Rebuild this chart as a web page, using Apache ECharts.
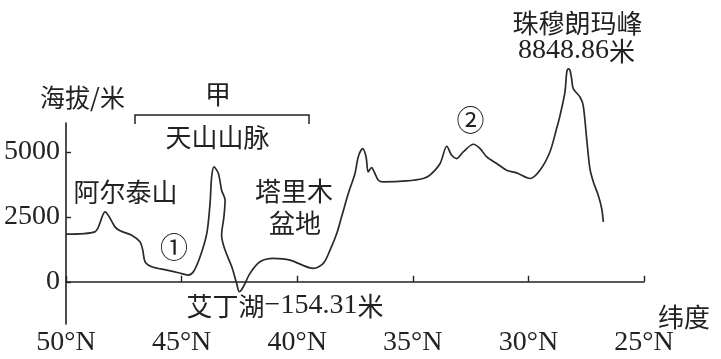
<!DOCTYPE html>
<html>
<head>
<meta charset="utf-8">
<script src="https://cdn.jsdelivr.net/npm/echarts@6/dist/echarts.min.js"></script>
<style>html,body{margin:0;padding:0;background:#fff;}#c{width:721px;height:359px;}</style>
</head>
<body>
<div id="c"></div>
<script>
// Profile: latitude (°N) and elevation (m)
const latitudes = [50.00, 48.75, 48.31, 47.88, 47.66, 47.16, 46.80, 46.68, 46.58, 46.29, 45.64, 45.14, 44.71, 44.49, 44.20, 43.91, 43.77, 43.70, 43.60, 43.41, 43.27, 43.12, 43.17, 43.27, 43.12, 42.83, 42.62, 42.50, 42.33, 42.04, 41.61, 41.03, 40.31, 39.30, 38.87, 38.58, 38.29, 38.08, 37.79, 37.50, 37.36, 37.17, 37.02, 36.93, 36.78, 36.67, 36.49, 36.28, 35.26, 34.55, 34.26, 33.82, 33.53, 33.32, 33.10, 32.82, 32.38, 32.09, 31.80, 31.37, 30.94, 30.51, 29.93, 29.50, 29.07, 28.78, 28.63, 28.42, 28.34, 28.27, 28.20, 28.13, 28.06, 27.77, 27.63, 27.48, 27.34, 27.19, 26.98, 26.83, 26.76];
const elevations = [1835, 1923, 2692, 2115, 1961, 1796, 1538, 1219, 769, 577, 450, 346, 258, 385, 962, 1861, 3015, 4038, 4423, 4169, 3527, 3142, 2500, 1796, 1219, 577, -62, -385, -192, 323, 769, 900, 835, 515, 708, 1219, 1861, 2500, 3400, 4169, 4808, 5131, 4808, 4231, 4400, 4231, 3911, 3846, 3884, 3977, 4104, 4554, 5219, 4873, 4746, 5000, 5296, 5131, 4808, 4554, 4296, 4192, 3977, 4296, 5000, 5900, 6411, 7307, 8077, 8200, 8142, 7823, 7438, 7115, 6796, 5515, 4361, 3846, 3334, 2823, 2308];
const yTicks = [0, 2500, 5000];
const xTicks = [50, 45, 40, 35, 30, 25];
const yAxisName = '海拔/米';
const xAxisName = '纬度';

const SERIF = "'Liberation Serif','Noto Sans CJK SC'";
const CJK = "'Noto Sans CJK SC'";
const INK = '#222';

const data = latitudes.map((v, i) => [v, elevations[i]]);

function txt(x, y, text, size, family, extra) {
  return {
    type: 'text', x: x, y: y, z: 10,
    style: Object.assign({
      text: text, fill: INK, fontSize: size, fontFamily: family,
      align: 'center', verticalAlign: 'middle', textAlign: 'center', textVerticalAlign: 'middle'
    }, extra || {})
  };
}

const chart = echarts.init(document.getElementById('c'), null, {renderer: 'canvas'});
chart.setOption({
  animation: false,
  backgroundColor: '#fff',
  grid: {left: 66, right: 77, top: 123, bottom: 35, containLabel: false, outerBoundsMode: 'none'},
  xAxis: {
    type: 'value', min: 25, max: 50, interval: 5, inverse: true,
    axisLine: {show: true, lineStyle: {color: INK, width: 1.6}},
    axisTick: {show: true, inside: true, length: 6, lineStyle: {color: INK, width: 1.4}, customValues: xTicks},
    axisLabel: {show: true, customValues: xTicks, formatter: v => v + '°N', fontFamily: SERIF, fontSize: 28, color: INK, margin: 5},
    splitLine: {show: false}
  },
  yAxis: {
    type: 'value', min: -1627, max: 6115,
    axisLine: {show: true, lineStyle: {color: INK, width: 1.6}},
    axisTick: {show: true, inside: true, length: 5, lineStyle: {color: INK, width: 1.4}, customValues: yTicks},
    axisLabel: {show: true, customValues: yTicks, formatter: v => String(v), fontFamily: SERIF, fontSize: 28, color: INK, margin: 6},
    splitLine: {show: false}
  },
  series: [{
    type: 'line', data: data, symbol: 'none', smooth: 0.3, clip: false,
    lineStyle: {color: '#2a2a2a', width: 1.7}
  }],
  graphic: [
    txt(82.5, 97, yAxisName, 25, CJK),
    txt(684, 317, xAxisName, 26, CJK),
    txt(218, 94, '甲', 26, CJK),
    {type: 'polyline', z: 10, shape: {points: [[135, 124], [135, 115], [309, 115], [309, 124]]}, style: {stroke: INK, lineWidth: 1.5, fill: null}},
    txt(217.5, 137.5, '天山山脉', 26, CJK),
    txt(125.5, 192.5, '阿尔泰山', 26, CJK),
    txt(174, 247.5, '①', 28, CJK),
    txt(294, 191, '塔里木', 26, CJK),
    txt(295, 223, '盆地', 26, CJK),
    txt(285, 306, '', 26, CJK, {rich: {c: {fontFamily: CJK, fontSize: 26, fill: INK}, n: {fontFamily: SERIF, fontSize: 28, fill: INK}}, text: '{c|艾丁湖}{n|−154.31}{c|米}'}),
    txt(470.5, 120, '②', 28, CJK),
    txt(577.5, 23, '珠穆朗玛峰', 26, CJK),
    txt(576.5, 51, '', 26, CJK, {rich: {c: {fontFamily: CJK, fontSize: 26, fill: INK}, n: {fontFamily: SERIF, fontSize: 28, fill: INK}}, text: '{n|8848.86}{c|米}'})
  ]
});
</script>
</body>
</html>
